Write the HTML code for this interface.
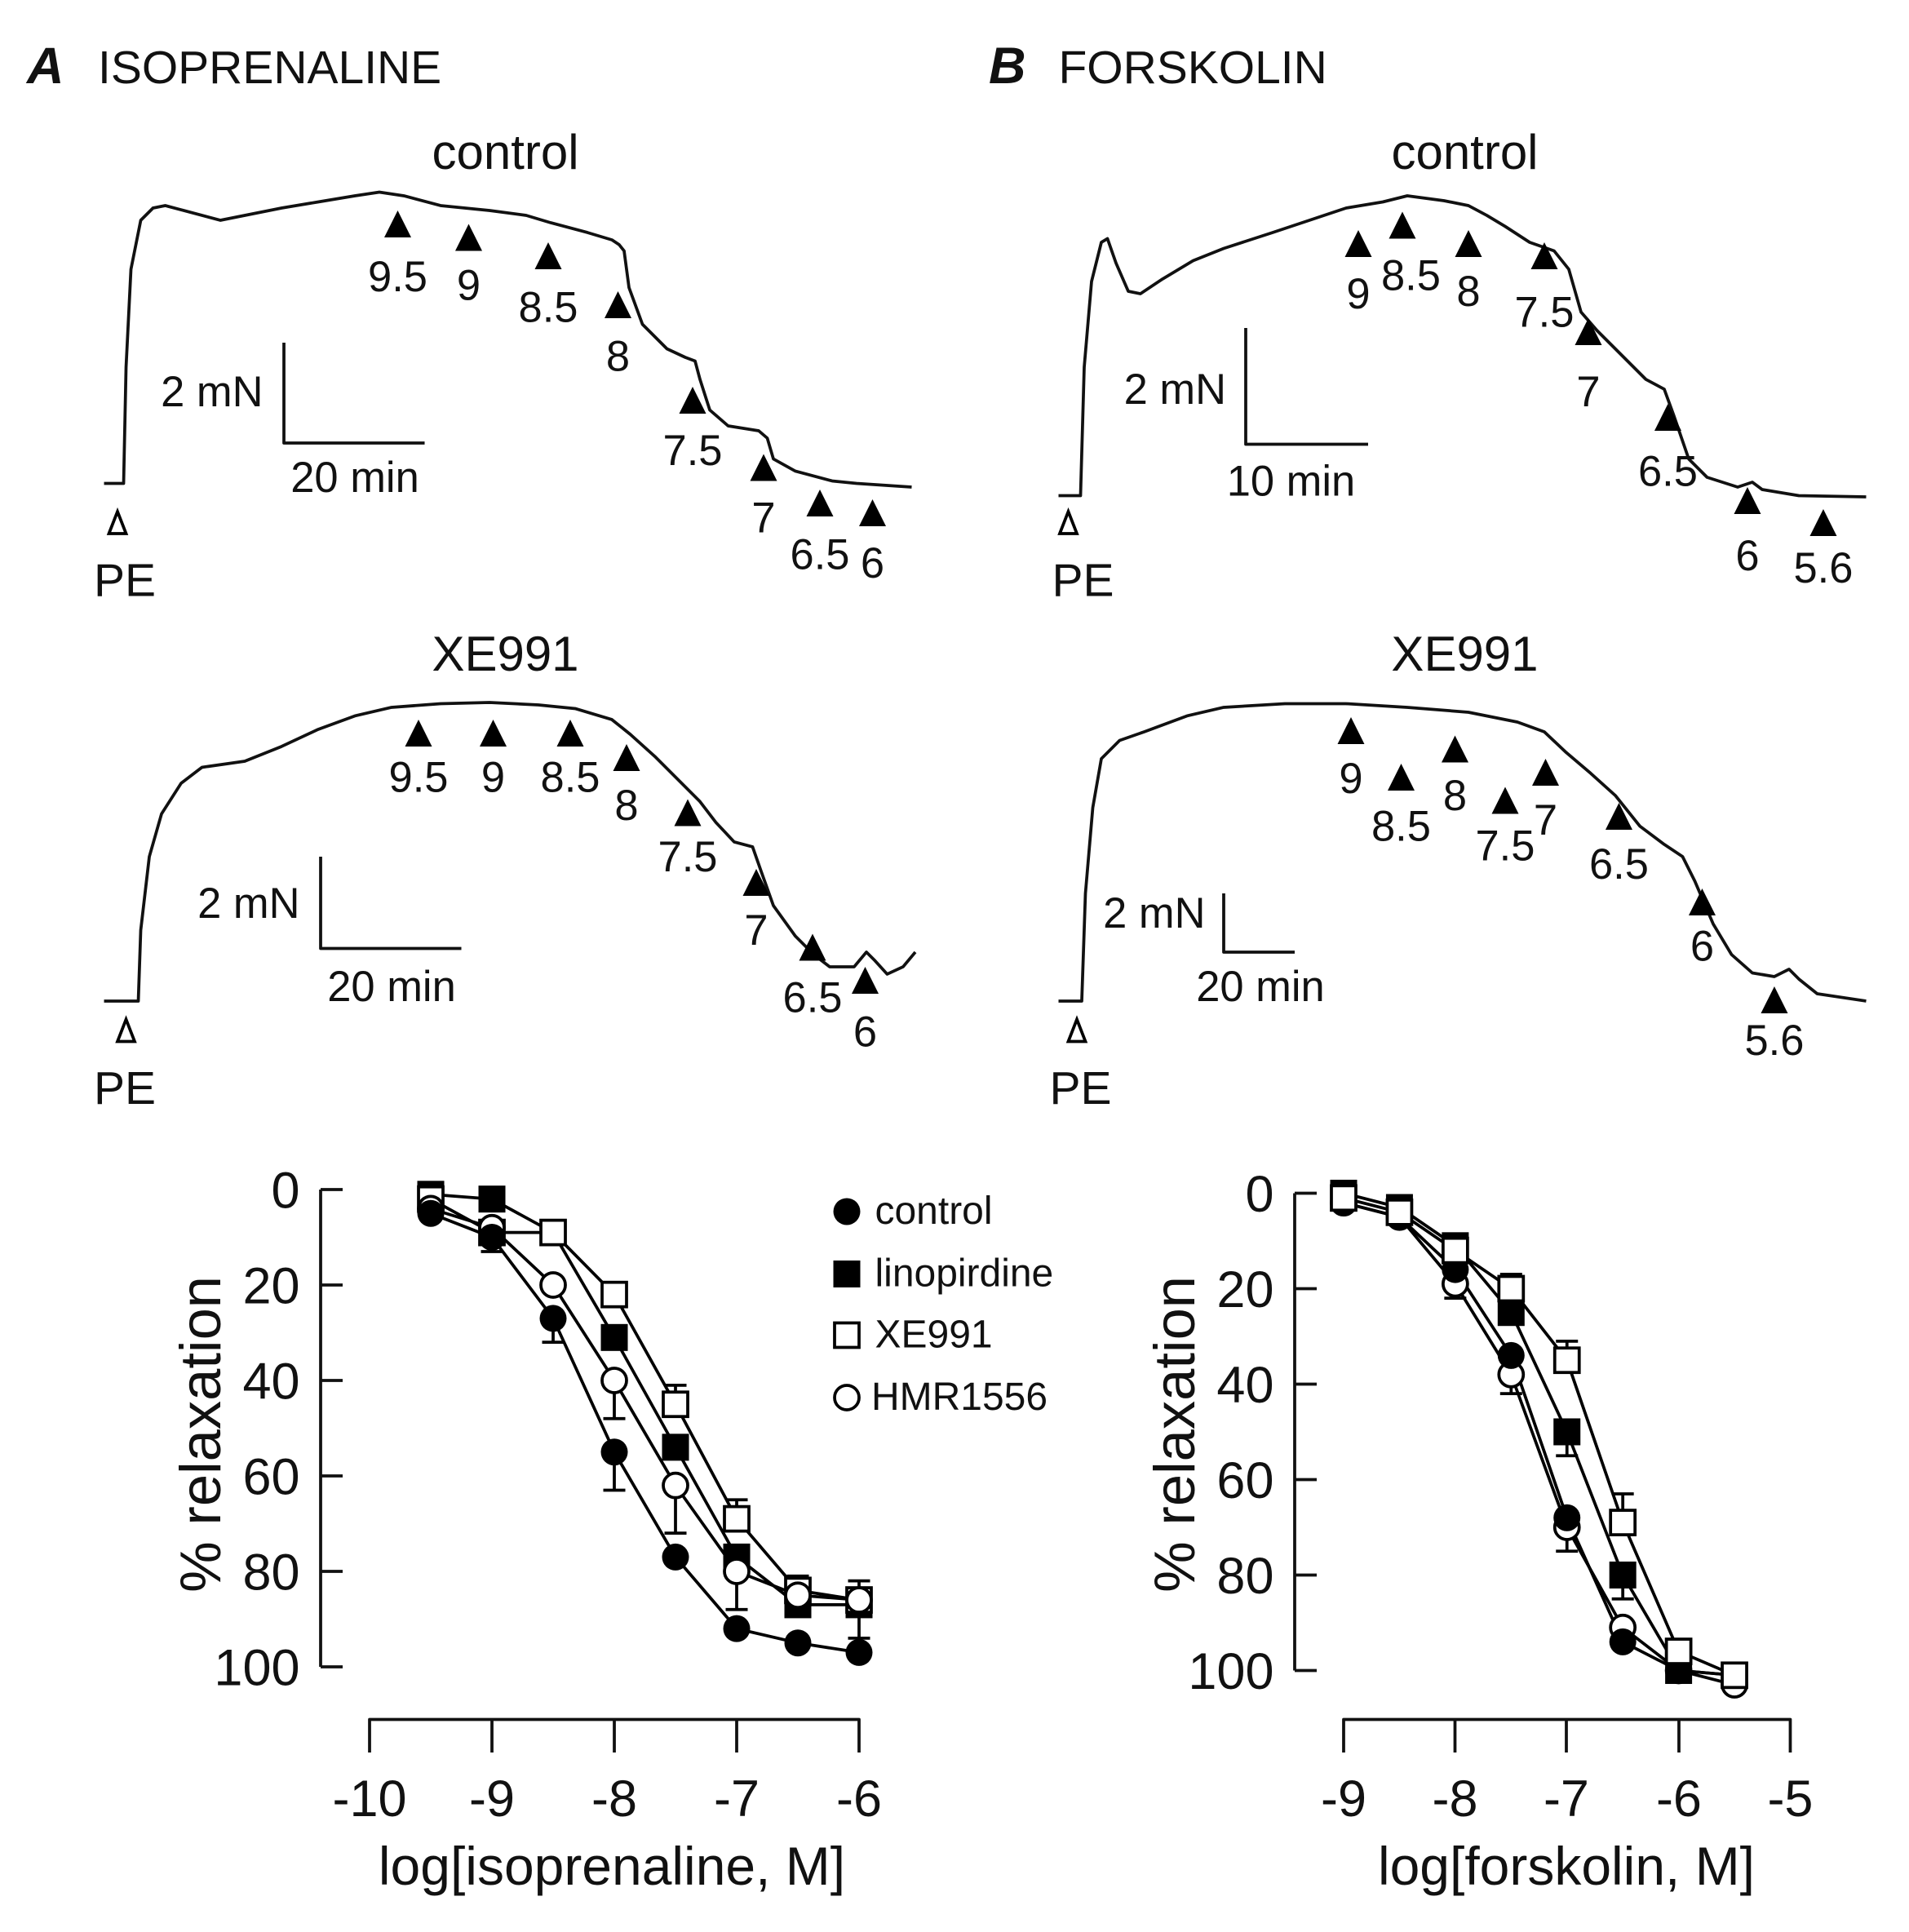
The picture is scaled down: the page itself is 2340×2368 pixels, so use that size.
<!DOCTYPE html>
<html><head><meta charset="utf-8"><style>
html,body{margin:0;padding:0;background:#fff;}
svg{display:block;}
text{font-family:"Liberation Sans",sans-serif;fill:#111;}
</style></head><body>
<svg id="s" width="2340" height="2368" viewBox="0 0 1560 1578.7" xmlns="http://www.w3.org/2000/svg">
<rect width="1560" height="1579" fill="#fff"/>
<g font-size="38">
<text x="22" y="68" font-weight="bold" font-style="italic" font-size="42">A</text>
<text x="80" y="68" font-size="38">ISOPRENALINE</text>
<text x="808" y="68" font-weight="bold" font-style="italic" font-size="42">B</text>
<text x="865" y="68" font-size="38">FORSKOLIN</text>
<text x="413" y="138" text-anchor="middle" font-size="40">control</text>
<text x="1197" y="138" text-anchor="middle" font-size="40">control</text>
<text x="413" y="548" text-anchor="middle" font-size="40">XE991</text>
<text x="1197" y="548" text-anchor="middle" font-size="40">XE991</text>
</g>
<g fill="none" stroke="#111" stroke-width="2.5" stroke-linejoin="round">
<path d="M85,395 L101,395 L103,300 L107,220 L115,180 L125,170 L135,168 L150,172 L165,176 L180,180 L200,176 L230,170 L260,165 L290,160 L310,157 L330,160 L360,168 L400,172 L430,176 L450,182 L480,190 L500,196 L506,200 L510,205 L514,235 L525,265 L545,285 L560,292 L568,295 L572,310 L580,335 L595,348 L620,352 L627,358 L632,375 L650,385 L680,393 L700,395 L745,398"/>
<path d="M865,405 L883,405 L886,300 L892,230 L900,198 L905,195 L912,215 L922,238 L932,240 L950,228 L975,213 L1000,203 L1040,190 L1070,180 L1100,170 L1130,165 L1150,160 L1180,164 L1200,168 L1215,176 L1230,185 L1250,198 L1270,205 L1282,220 L1292,255 L1305,270 L1325,290 L1345,310 L1360,318 L1368,340 L1380,375 L1395,390 L1420,398 L1432,394 L1440,400 L1470,405 L1525,406"/>
<path d="M85,818 L113,818 L115,760 L122,700 L132,665 L148,640 L165,627 L200,622 L230,610 L260,596 L290,585 L320,578 L360,575 L400,574 L440,576 L470,579 L500,588 L515,600 L535,618 L555,638 L572,655 L585,672 L600,688 L615,692 L622,712 L632,740 L650,765 L665,780 L678,790 L698,790 L708,778 L715,785 L725,796 L738,790 L748,778"/>
<path d="M865,818 L884,818 L887,730 L893,660 L900,620 L915,605 L935,598 L970,585 L1000,578 L1050,575 L1100,575 L1150,578 L1200,582 L1240,590 L1262,598 L1280,615 L1300,632 L1320,650 L1340,675 L1360,690 L1375,700 L1385,720 L1400,755 L1415,780 L1432,795 L1450,798 L1462,792 L1470,800 L1485,812 L1525,818"/>
<path d="M232,280 V362 H347 M1018,268 V363 H1118 M262,700 V775 H377 M1000,730 V778 H1058"/>
<path d="M262,972 V1362 M262,972 H280 M262,1050 H280 M262,1128 H280 M262,1206 H280 M262,1284 H280 M262,1362 H280"/>
<path d="M302,1432 V1405 H702 V1432 M402,1405 V1432 M502,1405 V1432 M602,1405 V1432"/>
<path d="M1058,975 V1365 M1058,975 H1076 M1058,1053 H1076 M1058,1131 H1076 M1058,1209 H1076 M1058,1287 H1076 M1058,1365 H1076"/>
<path d="M1098,1432 V1405 H1463 V1432 M1189,1405 V1432 M1280,1405 V1432 M1372,1405 V1432"/>
</g>
<g font-size="35" text-anchor="middle">
<text x="215" y="332" text-anchor="end">2 mN</text>
<text x="290" y="402">20 min</text>
<text x="1002" y="330" text-anchor="end">2 mN</text>
<text x="1055" y="405">10 min</text>
<text x="245" y="750" text-anchor="end">2 mN</text>
<text x="320" y="818">20 min</text>
<text x="985" y="758" text-anchor="end">2 mN</text>
<text x="1030" y="818">20 min</text>
<text x="102" y="487" font-size="38">PE</text><text x="885" y="487" font-size="38">PE</text>
<text x="102" y="902" font-size="38">PE</text><text x="883" y="902" font-size="38">PE</text>
</g>
<g id="tri"></g>
<g font-size="42" text-anchor="end">
<text x="245" y="987">0</text><text x="245" y="1065">20</text><text x="245" y="1143">40</text><text x="245" y="1221">60</text><text x="245" y="1299">80</text><text x="245" y="1377">100</text>
<text x="1041" y="990">0</text><text x="1041" y="1068">20</text><text x="1041" y="1146">40</text><text x="1041" y="1224">60</text><text x="1041" y="1302">80</text><text x="1041" y="1380">100</text>
</g>
<g font-size="42" text-anchor="middle">
<text x="302" y="1484">-10</text><text x="402" y="1484">-9</text><text x="502" y="1484">-8</text><text x="602" y="1484">-7</text><text x="702" y="1484">-6</text>
<text x="1098" y="1484">-9</text><text x="1189" y="1484">-8</text><text x="1280" y="1484">-7</text><text x="1372" y="1484">-6</text><text x="1463" y="1484">-5</text>
<text x="500" y="1540" font-size="44">log[isoprenaline, M]</text>
<text x="1280" y="1540" font-size="44">log[forskolin, M]</text>
<text transform="translate(180,1172) rotate(-90)" font-size="47">% relaxation</text>
<text transform="translate(976,1172) rotate(-90)" font-size="47">% relaxation</text>
</g>
<g font-size="32">
<circle cx="692" cy="990" r="11" fill="#000"/><text x="715" y="1000">control</text>
<rect x="681" y="1030" width="22" height="22" fill="#000"/><text x="715" y="1051">linopirdine</text>
<rect x="682" y="1081" width="20" height="20" fill="#fff" stroke="#000" stroke-width="2.5"/><text x="715" y="1101">XE991</text>
<circle cx="692" cy="1142" r="10" fill="#fff" stroke="#000" stroke-width="2.5"/><text x="712" y="1152">HMR1556</text>
</g>
<g id="plot"></g>
<g font-size="35" text-anchor="middle">
<text x="325" y="238">9.5</text><text x="383" y="245">9</text><text x="448" y="263">8.5</text><text x="505" y="303">8</text><text x="566" y="380">7.5</text><text x="624" y="435">7</text><text x="670" y="465">6.5</text><text x="713" y="472">6</text>
<text x="1110" y="252">9</text><text x="1153" y="237">8.5</text><text x="1200" y="250">8</text><text x="1262" y="267">7.5</text><text x="1298" y="332">7</text><text x="1363" y="397">6.5</text><text x="1428" y="466">6</text><text x="1490" y="476">5.6</text>
<text x="342" y="647">9.5</text><text x="403" y="647">9</text><text x="466" y="647">8.5</text><text x="512" y="670">8</text><text x="562" y="712">7.5</text><text x="618" y="772">7</text><text x="664" y="827">6.5</text><text x="707" y="855">6</text>
<text x="1104" y="648">9</text><text x="1145" y="687">8.5</text><text x="1189" y="662">8</text><text x="1230" y="703">7.5</text><text x="1263" y="682">7</text><text x="1323" y="718">6.5</text><text x="1391" y="785">6</text><text x="1450" y="862">5.6</text>
</g>
</svg>
<script>
var NS="http://www.w3.org/2000/svg";
function el(p,t,a){var e=document.createElementNS(NS,t);for(var k in a)e.setAttribute(k,a[k]);p.appendChild(e);return e;}
var tri=document.getElementById('tri');
var T=[[325,172],[383,183],[448,198],[505,238],[566,316],[624,371],[670,400],[713,408],
[1110,188],[1146,173],[1200,188],[1262,198],[1298,260],[1363,330],[1428,398],[1490,416],
[342,588],[403,588],[466,588],[512,608],[562,653],[618,710],[664,763],[707,790],
[1104,586],[1145,624],[1189,601],[1230,643],[1263,620],[1323,656],[1391,726],[1450,806]];
T.forEach(function(t){el(tri,'path',{d:'M'+(t[0]-11)+','+(t[1]+22)+' L'+t[0]+','+t[1]+' L'+(t[0]+11)+','+(t[1]+22)+'Z',fill:'#000'});});
[[96,418],[103,833],[873,418],[880,833]].forEach(function(t){el(tri,'path',{d:'M'+(t[0]-7)+','+(t[1]+18)+' L'+t[0]+','+t[1]+' L'+(t[0]+7)+','+(t[1]+18)+'Z',fill:'#fff',stroke:'#000','stroke-width':2.5});});
var P=document.getElementById('plot');
function draw(xs,series,X,Y){
 series.forEach(function(s){
  var d='';xs.forEach(function(x,i){d+=(i?'L':'M')+X(x)+','+Y(s.v[i]);});
  el(P,'path',{d:d,fill:'none',stroke:'#000','stroke-width':2.5});
  (s.e||[]).forEach(function(e){var x=X(xs[e[0]]);el(P,'path',{d:'M'+x+','+Y(s.v[e[0]])+' V'+Y(e[1])+' M'+(x-9)+','+Y(e[1])+' H'+(x+9),stroke:'#000','stroke-width':2.5,fill:'none'});});
 });
 series.forEach(function(s){xs.forEach(function(x,i){var cx=X(x),cy=Y(s.v[i]);
  if(s.t=='fc')el(P,'circle',{cx:cx,cy:cy,r:11,fill:'#000'});
  if(s.t=='oc')el(P,'circle',{cx:cx,cy:cy,r:10,fill:'#fff',stroke:'#000','stroke-width':2.5});
  if(s.t=='fs')el(P,'rect',{x:cx-11,y:cy-11,width:22,height:22,fill:'#000'});
  if(s.t=='os')el(P,'rect',{x:cx-10,y:cy-10,width:20,height:20,fill:'#fff',stroke:'#000','stroke-width':2.5});
 });});
}
draw([-9.5,-9,-8.5,-8,-7.5,-7,-6.5,-6],[
 {t:'fs',v:[1,2,9,31,54,77,87,87]},
 {t:'os',v:[2,9,9,22,45,69,84,86],e:[[4,41],[5,65],[6,81],[7,82]]},
 {t:'oc',v:[4,8,20,40,62,80,85,86],e:[[3,48],[4,72],[5,88],[7,94]]},
 {t:'fc',v:[5,10,27,55,77,92,95,97],e:[[1,13],[2,32],[3,63]]}
],function(x){return 302+(x+10)*100;},function(v){return 972+v*3.9;});
draw([-9,-8.5,-8,-7.5,-7,-6.5,-6,-5.5],[
 {t:'oc',v:[2,5,19,38,70,91,100,103],e:[[2,22],[3,42],[4,75]]},
 {t:'fc',v:[2,5,16,34,68,94,100,101]},
 {t:'fs',v:[0,3,11,25,50,80,100,101],e:[[4,55],[5,85]]},
 {t:'os',v:[1,4,12,20,35,69,96,101],e:[[3,17],[4,31],[5,63]]}
],function(x){return 1098+(x+9)*91.25;},function(v){return 975+v*3.9;});
</script>
</body></html>
